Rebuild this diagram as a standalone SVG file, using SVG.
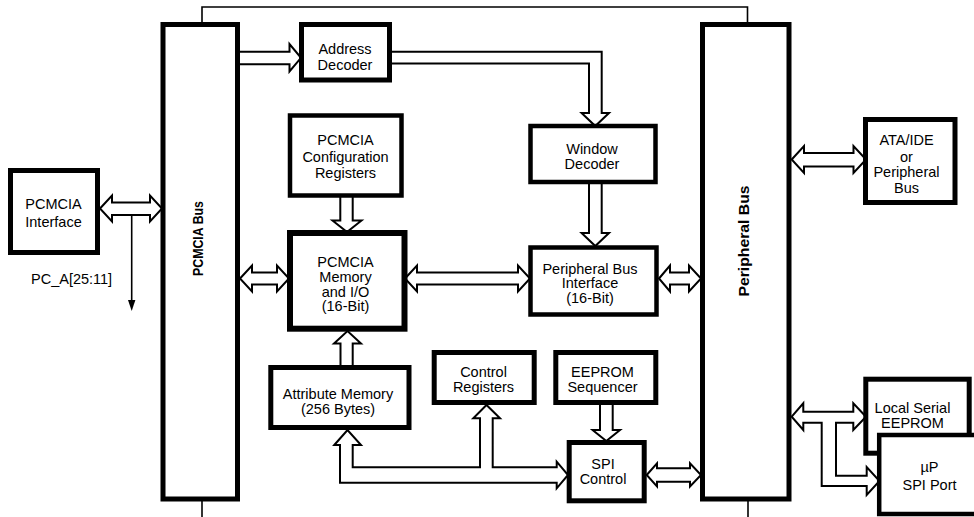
<svg xmlns="http://www.w3.org/2000/svg" width="974" height="517" viewBox="0 0 974 517">
<style>
.box{fill:#fff;stroke:#000;stroke-width:5}
.thin{stroke-width:4.5}
.thick{stroke-width:6}
.arr{fill:#fff;stroke:#000;stroke-width:2;stroke-linejoin:miter}
.ln{fill:none;stroke:#000;stroke-width:1.6}
text{font-family:"Liberation Sans",Arial,sans-serif;font-size:14.5px;fill:#000;text-anchor:middle}
.bold{font-weight:bold;font-size:15px}
</style>
<rect width="974" height="517" fill="#fff"/>
<g id="connectors">
  <polyline class="ln" points="202,24 202,7 747.5,7 747.5,24"/>
  <line class="ln" x1="202" y1="499" x2="202" y2="517"/>
  <line class="ln" x1="748" y1="499" x2="748" y2="517"/>
  <polygon class="arr" points="100,208.5 112,195.5 112,202.5 150,202.5 150,195.5 162,208.5 150,221.5 150,215 112,215 112,221.5"/>
  <line class="ln" x1="131.7" y1="215" x2="131.7" y2="302"/>
  <polygon points="128,300 135.4,300 131.7,311" fill="#000"/>
  <polygon class="arr" points="238,51.7 289.5,51.7 289.5,44 301,57.8 289.5,71.5 289.5,64.3 238,64.3"/>
  <polygon class="arr" points="390,51.7 601.7,51.7 601.7,113 609,113 595.3,126 581.6,113 589,113 589,63.5 390,63.5"/>
  <polygon class="arr" points="340.3,195 352.7,195 352.7,220.5 361.5,220.5 347,232 332.5,220.5 340.3,220.5"/>
  <polygon class="arr" points="589,182 601.7,182 601.7,233 609,233 595.3,246 581.6,233 589,233"/>
  <polygon class="arr" points="240,278.5 252,265.5 252,272.5 277,272.5 277,265.5 289,278.5 277,291.5 277,284.5 252,284.5 252,291.5"/>
  <polygon class="arr" points="405,278.5 417,265.5 417,272.5 518,272.5 518,265.5 530,278.5 518,291.5 518,284.5 417,284.5 417,291.5"/>
  <polygon class="arr" points="659,278.5 670,265.5 670,272.5 689,272.5 689,265.5 701,278.5 689,291.5 689,284.5 670,284.5 670,291.5"/>
  <polygon class="arr" points="791.7,159.5 804,146 804,153 853.5,153 853.5,146 866,159.5 853.5,173 853.5,166.5 804,166.5 804,173"/>
  <polygon class="arr" points="600,402 612.7,402 612.7,430 620,430 606.3,441 592.6,430 600,430"/>
  <polygon class="arr" points="340.5,367 352.7,367 352.7,343.5 361,343.5 347.5,331 334,343.5 340.5,343.5"/>
  <polygon class="arr" points="334.3,445 347.5,430 361,445 352.7,445 352.7,467.3 480,467.3 480,418.3 473.3,418.3 486.5,405 500,418.3 492.7,418.3 492.7,467.3 556.7,467.3 556.7,461.7 568,475 556.7,488.3 556.7,482.7 340,482.7 340,445"/>
  <polygon class="arr" points="646.7,475 657,463.3 657,468.3 690,468.3 690,463.3 701,475 690,486.5 690,481.7 657,481.7 657,486.5"/>
  <polygon class="arr" points="791.7,416.7 803.3,403.3 803.3,411.7 853.3,411.7 853.3,403.3 866,416.7 853.3,430 853.3,422.7 836,422.7 836,475.7 866.7,475.7 866.7,467 879.5,481 866.7,495 866.7,486 821.7,486 821.7,422.7 803.3,422.7 803.3,430"/>
</g>
<g id="pcmcia-interface">
  <rect class="box" x="10.5" y="170.5" width="87" height="82"/>
  <text x="53.5" y="209">PCMCIA</text>
  <text x="53.5" y="226.5">Interface</text>
</g>
<g id="pc-a-label">
  <text x="31" y="284" style="text-anchor:start">PC_A[25:11]</text>
</g>
<g id="pcmcia-bus">
  <rect class="box" x="163" y="24.5" width="74.5" height="474.5"/>
  <text class="bold" transform="translate(202.5,238.5) rotate(-90)" textLength="75" lengthAdjust="spacingAndGlyphs">PCMCIA Bus</text>
</g>
<g id="address-decoder">
  <rect class="box" x="301.5" y="24.5" width="88" height="55.5"/>
  <text x="345" y="53.5">Address</text>
  <text x="345" y="69.5">Decoder</text>
</g>
<g id="config-registers">
  <rect class="box thin" x="290" y="115.5" width="111.5" height="80"/>
  <text x="345.5" y="145">PCMCIA</text>
  <text x="345.5" y="162">Configuration</text>
  <text x="345.5" y="178">Registers</text>
</g>
<g id="window-decoder">
  <rect class="box thin" x="530.5" y="126" width="125" height="56"/>
  <text x="592" y="154">Window</text>
  <text x="592" y="168.5">Decoder</text>
</g>
<g id="pcmcia-memory">
  <rect class="box thick" x="290" y="233" width="114.5" height="95.7"/>
  <text x="345.5" y="266.5">PCMCIA</text>
  <text x="345.5" y="281.5">Memory</text>
  <text x="345.5" y="296.5">and I/O</text>
  <text x="345.5" y="311">(16-Bit)</text>
</g>
<g id="peripheral-bus-interface">
  <rect class="box thin" x="530.5" y="247.5" width="126" height="67"/>
  <text x="590" y="273.5">Peripheral Bus</text>
  <text x="590" y="288">Interface</text>
  <text x="590" y="303">(16-Bit)</text>
</g>
<g id="peripheral-bus">
  <rect class="box" x="702.5" y="24.5" width="86.5" height="474.5"/>
  <text class="bold" transform="translate(749,241) rotate(-90)" textLength="111" lengthAdjust="spacingAndGlyphs">Peripheral Bus</text>
</g>
<g id="ata-ide">
  <rect class="box" x="865.5" y="119.5" width="89.5" height="83"/>
  <text x="906.5" y="145">ATA/IDE</text>
  <text x="906.5" y="161.5">or</text>
  <text x="906.5" y="177">Peripheral</text>
  <text x="906.5" y="193">Bus</text>
</g>
<g id="attribute-memory">
  <rect class="box" x="270.8" y="367.5" width="138.2" height="60"/>
  <text x="338" y="398.5">Attribute Memory</text>
  <text x="338" y="413.5">(256 Bytes)</text>
</g>
<g id="control-registers">
  <rect class="box" x="434.2" y="352.5" width="100" height="50"/>
  <text x="483.5" y="376.5">Control</text>
  <text x="483.5" y="392">Registers</text>
</g>
<g id="eeprom-sequencer">
  <rect class="box" x="555.8" y="352.5" width="100" height="50"/>
  <text x="602.5" y="376.5">EEPROM</text>
  <text x="602.5" y="392">Sequencer</text>
</g>
<g id="spi-control">
  <rect class="box" x="569.2" y="442.5" width="75" height="58.3"/>
  <text x="603" y="468.5">SPI</text>
  <text x="603" y="483.5">Control</text>
</g>
<g id="local-serial-eeprom">
  <rect class="box" x="865.8" y="379.2" width="103.4" height="74"/>
  <text x="912.5" y="412.5">Local Serial</text>
  <text x="912.5" y="427.5">EEPROM</text>
</g>
<g id="up-spi-port">
  <rect class="box thin" x="879.2" y="435" width="100" height="79"/>
  <text x="929.5" y="472">µP</text>
  <text x="929.5" y="490">SPI Port</text>
</g>
</svg>
